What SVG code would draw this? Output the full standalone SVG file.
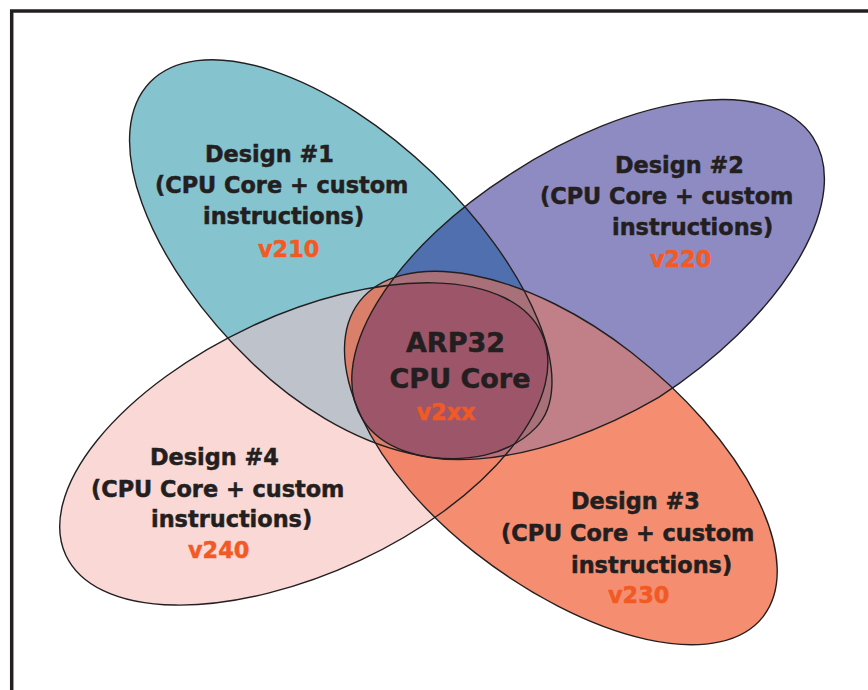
<svg xmlns="http://www.w3.org/2000/svg" width="868" height="690" viewBox="0 0 868 690">
<style>
.lbl{font-family:"DejaVu Sans","Verdana",sans-serif;font-weight:bold;font-size:22.4px;fill:#231F20;stroke:#231F20;stroke-width:0.5}
.ver{fill:#F15A24;stroke:#F15A24}
.big{font-size:27px}
.outl{fill:none;stroke:#231F20;stroke-width:1.4}
</style>
<defs>
<path id="eT" transform="translate(342.4 268.1) rotate(44)" d="M-267.5,0 A267.5,131 0 0 1 0,-131 A250,111 0 0 1 250,-20 A250,151 0 0 1 0,131 A267.5,131 0 0 1 -267.5,0 Z"/>
<path id="eP" transform="translate(585.7 285) rotate(-33)" d="M271,0 A271,134 0 0 1 0,134 A270,134 2.33 0 1 0,-134 A271,134 0 0 1 271,0 Z"/>
<path id="eO" transform="translate(553.5 452.8) rotate(38)" d="M-246,0 A246,127 0 0 1 0,-127 A266,127 0 0 1 266,0 A266,127 0 0 1 0,127 A246,127 0 0 1 -246,0 Z"/>
<path id="eK" transform="translate(306 443.2) rotate(-25)" d="M-265,0 A265,129 0 0 1 0,-129 A260,129 0 0 1 260,0 A260,129 0 0 1 0,129 A265,129 0 0 1 -265,0 Z"/>
<clipPath id="cT"><use href="#eT"/></clipPath>
<clipPath id="cP"><use href="#eP"/></clipPath>
<clipPath id="cO"><use href="#eO"/></clipPath>
</defs>
<rect width="868" height="690" fill="#FFFFFF"/>
<path d="M11.7,700 V11 H880" fill="none" stroke="#231F20" stroke-width="3.5"/>
<g id="fills">
<use href="#eT" fill="#85C3CF"/>
<use href="#eP" fill="#8E8BC3"/>
<use href="#eO" fill="#F58E70"/>
<use href="#eK" fill="#FAD8D6"/>
<g clip-path="url(#cT)"><use href="#eP" fill="#4F6FAF"/></g>
<g clip-path="url(#cT)"><use href="#eO" fill="#C98A84"/></g>
<g clip-path="url(#cT)"><use href="#eK" fill="#BEC3CB"/></g>
<g clip-path="url(#cP)"><use href="#eO" fill="#C17F87"/></g>
<g clip-path="url(#cP)"><use href="#eK" fill="#B4A0BE"/></g>
<g clip-path="url(#cO)"><use href="#eK" fill="#F2846A"/></g>
<g clip-path="url(#cT)"><g clip-path="url(#cP)"><use href="#eO" fill="#A8717A"/></g></g>
<g clip-path="url(#cT)"><g clip-path="url(#cP)"><use href="#eK" fill="#7770A9"/></g></g>
<g clip-path="url(#cT)"><g clip-path="url(#cO)"><use href="#eK" fill="#DA806A"/></g></g>
<g clip-path="url(#cP)"><g clip-path="url(#cO)"><use href="#eK" fill="#B8707C"/></g></g>
<g clip-path="url(#cT)"><g clip-path="url(#cP)"><g clip-path="url(#cO)"><use href="#eK" fill="#9D5569"/></g></g></g>
</g>
<g id="design1">
<use href="#eT" class="outl"/>
<text class="lbl" x="205" y="162">Design #1</text>
<text class="lbl" x="155" y="193">(CPU Core + custom</text>
<text class="lbl" x="203" y="224">instructions)</text>
<text class="lbl ver" x="258" y="257">v210</text>
</g>
<g id="design2">
<use href="#eP" class="outl"/>
<text class="lbl" x="615" y="173">Design #2</text>
<text class="lbl" x="540" y="204">(CPU Core + custom</text>
<text class="lbl" x="612" y="235">instructions)</text>
<text class="lbl ver" x="650" y="267">v220</text>
</g>
<g id="design3">
<use href="#eO" class="outl"/>
<text class="lbl" x="571" y="509">Design #3</text>
<text class="lbl" x="501" y="541">(CPU Core + custom</text>
<text class="lbl" x="571" y="573">instructions)</text>
<text class="lbl ver" x="608" y="603">v230</text>
</g>
<g id="design4">
<use href="#eK" class="outl"/>
<text class="lbl" x="150" y="465">Design #4</text>
<text class="lbl" x="91" y="497">(CPU Core + custom</text>
<text class="lbl" x="151" y="527">instructions)</text>
<text class="lbl ver" x="188" y="558">v240</text>
</g>
<g id="core">
<text class="lbl big" x="455.5" y="352" text-anchor="middle">ARP32</text>
<text class="lbl big" x="460" y="388" text-anchor="middle">CPU Core</text>
<text class="lbl ver" x="446" y="420" text-anchor="middle">v2xx</text>
</g>
<g id="connectors"/>
</svg>
